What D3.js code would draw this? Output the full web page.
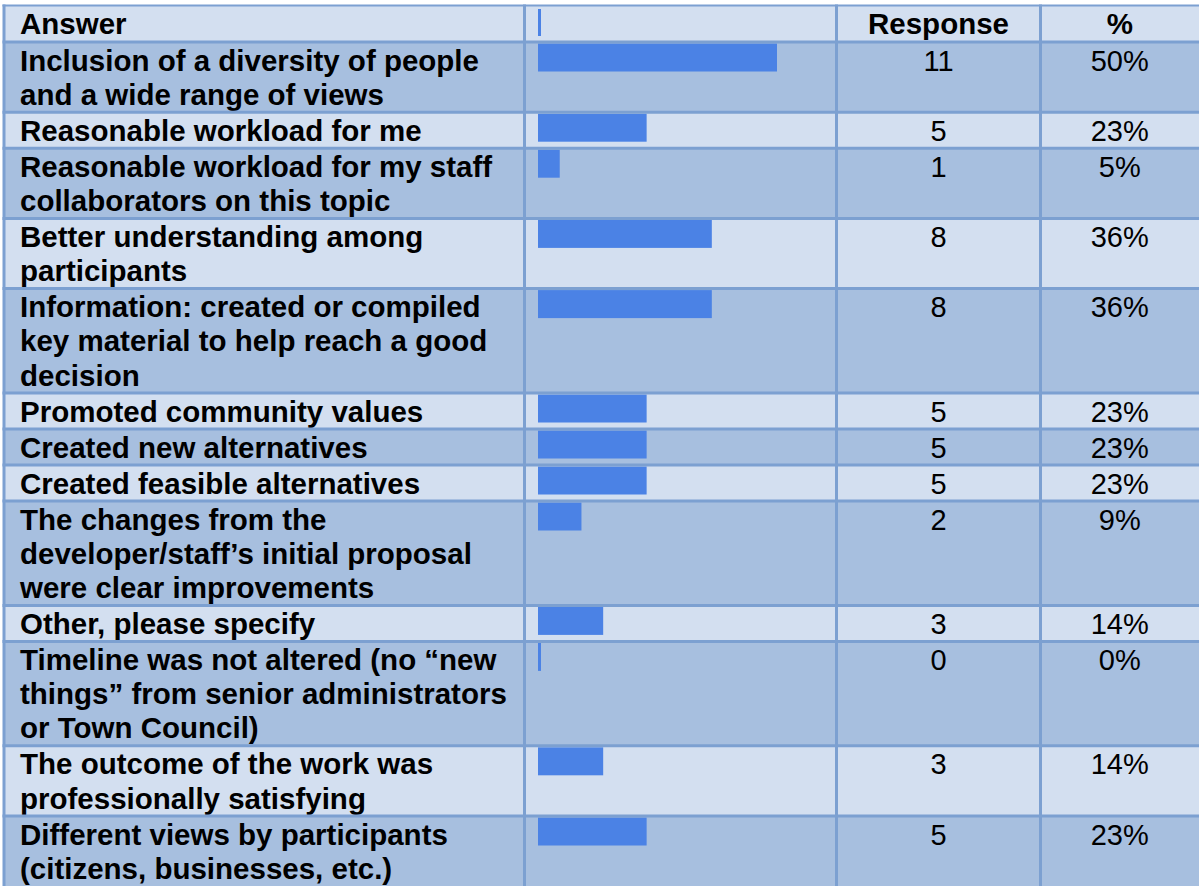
<!DOCTYPE html>
<html>
<head>
<meta charset="utf-8">
<script src="https://cdn.jsdelivr.net/npm/d3@7"></script>
<style>
  body { margin: 0; background: #fff; }
  svg { display: block; }
</style>
</head>
<body>
<div id="chart"></div>
<script>
// answers, one string per row, "\n" marks where the reference wraps
var answers = [
    "Inclusion of a diversity of people\nand a wide range of views",
    "Reasonable workload for me",
    "Reasonable workload for my staff\ncollaborators on this topic",
    "Better understanding among\nparticipants",
    "Information: created or compiled\nkey material to help reach a good\ndecision",
    "Promoted community values",
    "Created new alternatives",
    "Created feasible alternatives",
    "The changes from the\ndeveloper/staff\u2019s initial proposal\nwere clear improvements",
    "Other, please specify",
    "Timeline was not altered (no \u201cnew\nthings\u201d from senior administrators\nor Town Council)",
    "The outcome of the work was\nprofessionally satisfying",
    "Different views by participants\n(citizens, businesses, etc.)"
];
var responses = [11, 5, 1, 8, 8, 5, 5, 5, 2, 3, 0, 3, 5];
var percents = ["50%", "23%", "5%", "36%", "36%", "23%", "23%", "23%", "9%", "14%", "0%", "14%", "23%"];
var headers = ["Answer", "", "Response", "%"];

var width = 1199, height = 886;
var lineH = 34.2;
var light = "#d3dff0", dark = "#a7bfdf", border = "#7ca0d1", barColor = "#4b82e5";
var colX = [4, 524.5, 836.5, 1040.5, 1199];   // column boundaries
var font = "'Liberation Sans', Arial, sans-serif";
var labelSize = 29.5, numSize = 29;

var svg = d3.select("#chart").append("svg")
    .attr("width", width)
    .attr("height", height);

// row geometry
var rows = [];
var y = 42;
answers.forEach(function (a, i) {
    var lines = a.split("\n");
    var h = lineH * lines.length + 1.8;
    rows.push({ label: lines, value: responses[i], pct: percents[i], y0: y, y1: y + h, i: i });
    y += h;
});

var x = d3.scaleLinear()
    .domain([0, d3.max(responses)])
    .range([0, 239]);

// header background
svg.append("rect")
    .attr("x", colX[0]).attr("y", 5)
    .attr("width", width - colX[0]).attr("height", 37)
    .attr("fill", light);

var row = svg.selectAll("g.row")
    .data(rows)
    .enter().append("g")
    .attr("class", "row");

row.append("rect")
    .attr("x", colX[0])
    .attr("y", function (d) { return d.y0; })
    .attr("width", width - colX[0])
    .attr("height", function (d) { return d.y1 - d.y0; })
    .attr("fill", function (d) { return d.i % 2 == 0 ? dark : light; });

row.append("rect")
    .attr("x", 538)
    .attr("y", function (d) { return d.y0 + 1.5; })
    .attr("width", function (d) { return Math.max(3, x(d.value)); })
    .attr("height", 28)
    .attr("fill", barColor);

// header thin bar
svg.append("rect")
    .attr("x", 538).attr("y", 9)
    .attr("width", 3).attr("height", 27)
    .attr("fill", barColor);

// grid lines
var hLines = [5.5].concat(rows.map(function (d) { return d.y0; }));
svg.selectAll("line.h")
    .data(hLines)
    .enter().append("line")
    .attr("x1", colX[0] - 1.5).attr("x2", width)
    .attr("y1", function (d) { return d; })
    .attr("y2", function (d) { return d; })
    .attr("stroke", border)
    .attr("stroke-width", function (d, i) { return i == 0 ? 2 : 3; });

svg.selectAll("line.v")
    .data(colX.slice(0, 4))
    .enter().append("line")
    .attr("x1", function (d) { return d; })
    .attr("x2", function (d) { return d; })
    .attr("y1", 4.5).attr("y2", height)
    .attr("stroke", border)
    .attr("stroke-width", 3);

// header text
svg.append("text").attr("x", 20).attr("y", 34)
    .attr("font-family", font).attr("font-size", labelSize).attr("font-weight", "bold")
    .text(headers[0]);
[2, 3].forEach(function (c) {
    svg.append("text")
        .attr("x", (colX[c] + colX[c + 1]) / 2).attr("y", 34)
        .attr("text-anchor", "middle")
        .attr("font-family", font).attr("font-size", labelSize).attr("font-weight", "bold")
        .text(headers[c]);
});

row.append("text")
    .attr("font-family", font).attr("font-size", labelSize).attr("font-weight", "bold")
    .attr("y", function (d) { return d.y0 + 28.5; })
    .selectAll("tspan")
    .data(function (d) { return d.label; })
    .enter().append("tspan")
    .attr("x", 20)
    .attr("dy", function (d, i) { return i == 0 ? 0 : lineH; })
    .text(function (d) { return d; });

row.append("text")
    .attr("x", (colX[2] + colX[3]) / 2)
    .attr("y", function (d) { return d.y0 + 28.5; })
    .attr("text-anchor", "middle")
    .attr("font-family", font).attr("font-size", numSize)
    .text(function (d) { return d.value; });

row.append("text")
    .attr("x", (colX[3] + colX[4]) / 2)
    .attr("y", function (d) { return d.y0 + 28.5; })
    .attr("text-anchor", "middle")
    .attr("font-family", font).attr("font-size", numSize)
    .text(function (d) { return d.pct; });
</script>
</body>
</html>
